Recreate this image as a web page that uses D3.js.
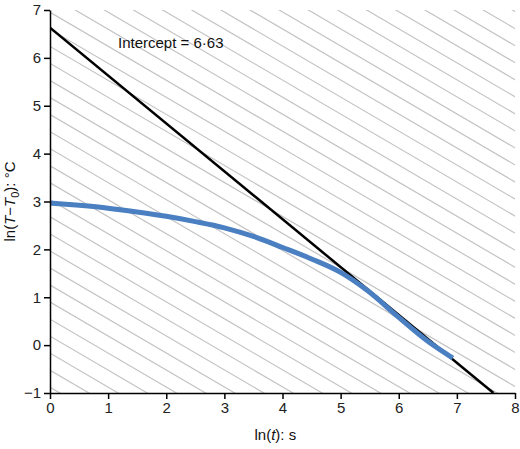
<!DOCTYPE html>
<html><head><meta charset="utf-8">
<script src="https://cdn.jsdelivr.net/npm/d3@7"></script>
<style>body{margin:0;background:#fff}text{font-family:"Liberation Sans",Arial,sans-serif}</style>
</head><body><div id="chart"></div>
<script>
var xTicks = [0, 1, 2, 3, 4, 5, 6, 7, 8];
var yTicks = [-1, 0, 1, 2, 3, 4, 5, 6, 7];
var curveX = [0, 0.5, 1, 1.5, 2, 2.5, 3, 3.5, 4, 4.5, 5, 5.45, 6, 6.5, 6.93];
var curveY = [2.97, 2.92, 2.86, 2.78, 2.69, 2.58, 2.45, 2.27, 2.04, 1.80, 1.52, 1.15, 0.58, 0.08, -0.27];
var intercept = 6.63;
var slope = -1.0;

var width = 520, height = 449;
var margin = {left: 50, right: 5, top: 10, bottom: 56};

var svg = d3.select("#chart").append("svg").attr("width", width).attr("height", height);
var x = d3.scaleLinear().domain([0, 8]).range([margin.left, width - margin.right]);
var y = d3.scaleLinear().domain([-1, 7]).range([height - margin.bottom, margin.top]);

svg.append("clipPath").attr("id", "clip").append("rect")
    .attr("x", x(0)).attr("y", y(7)).attr("width", x(8) - x(0)).attr("height", y(-1) - y(7));

// hatching
var hatch = svg.append("g").attr("clip-path", "url(#clip)");
for (var c = -8; c < 20; c += 0.356) {
    hatch.append("line")
        .attr("x1", x(-2)).attr("y1", y(c + 0.71 * 2))
        .attr("x2", x(10)).attr("y2", y(c - 0.71 * 10))
        .attr("stroke", "#c4c4c4").attr("stroke-width", 1.2);
}

var plot = svg.append("g").attr("clip-path", "url(#clip)");
plot.append("line")
    .attr("x1", x(0)).attr("y1", y(intercept))
    .attr("x2", x((-1 - intercept) / slope)).attr("y2", y(-1))
    .attr("stroke", "#000").attr("stroke-width", 2.5);

var pts = curveX.map(function (d, i) { return [d, curveY[i]]; });
plot.append("path").datum(pts)
    .attr("d", d3.line().x(function (d) { return x(d[0]); }).y(function (d) { return y(d[1]); }).curve(d3.curveMonotoneX))
    .attr("fill", "none").attr("stroke", "#4a7fc1").attr("stroke-width", 5);

var xa = svg.append("g").attr("transform", "translate(0," + y(-1) + ")")
    .call(d3.axisBottom(x).tickValues(xTicks).tickSize(6).tickSizeOuter(0));
var ya = svg.append("g").attr("transform", "translate(" + x(0) + ",0)")
    .call(d3.axisLeft(y).tickValues(yTicks).tickSize(6).tickSizeOuter(0));
[xa, ya].forEach(function (a) {
    a.selectAll("path,line").attr("stroke", "#000").attr("stroke-width", 1.5);
    a.selectAll("text").attr("font-size", 15).attr("fill", "#222")
        .style("font-family", '"Liberation Sans",Arial,sans-serif');
});

svg.append("text").attr("x", 118).attr("y", 48).attr("font-size", 15).attr("fill", "#111")
    .text("Intercept = 6\u00b763");

var xl = svg.append("text").attr("x", x(4) - 28).attr("y", 440).attr("font-size", 15).attr("fill", "#111");
xl.append("tspan").text("ln(");
xl.append("tspan").attr("font-style", "italic").text("t");
xl.append("tspan").text("): s");

var yl = svg.append("text").attr("transform", "translate(15," + y(3) + ") rotate(-90)")
    .attr("text-anchor", "middle").attr("font-size", 15).attr("fill", "#111");
yl.append("tspan").text("ln(");
yl.append("tspan").attr("font-style", "italic").text("T");
yl.append("tspan").text("\u2212");
yl.append("tspan").attr("font-style", "italic").text("T");
yl.append("tspan").attr("font-size", 11).attr("dy", 4).text("0");
yl.append("tspan").attr("dy", -4).text("): \u00b0C");
</script></body></html>
